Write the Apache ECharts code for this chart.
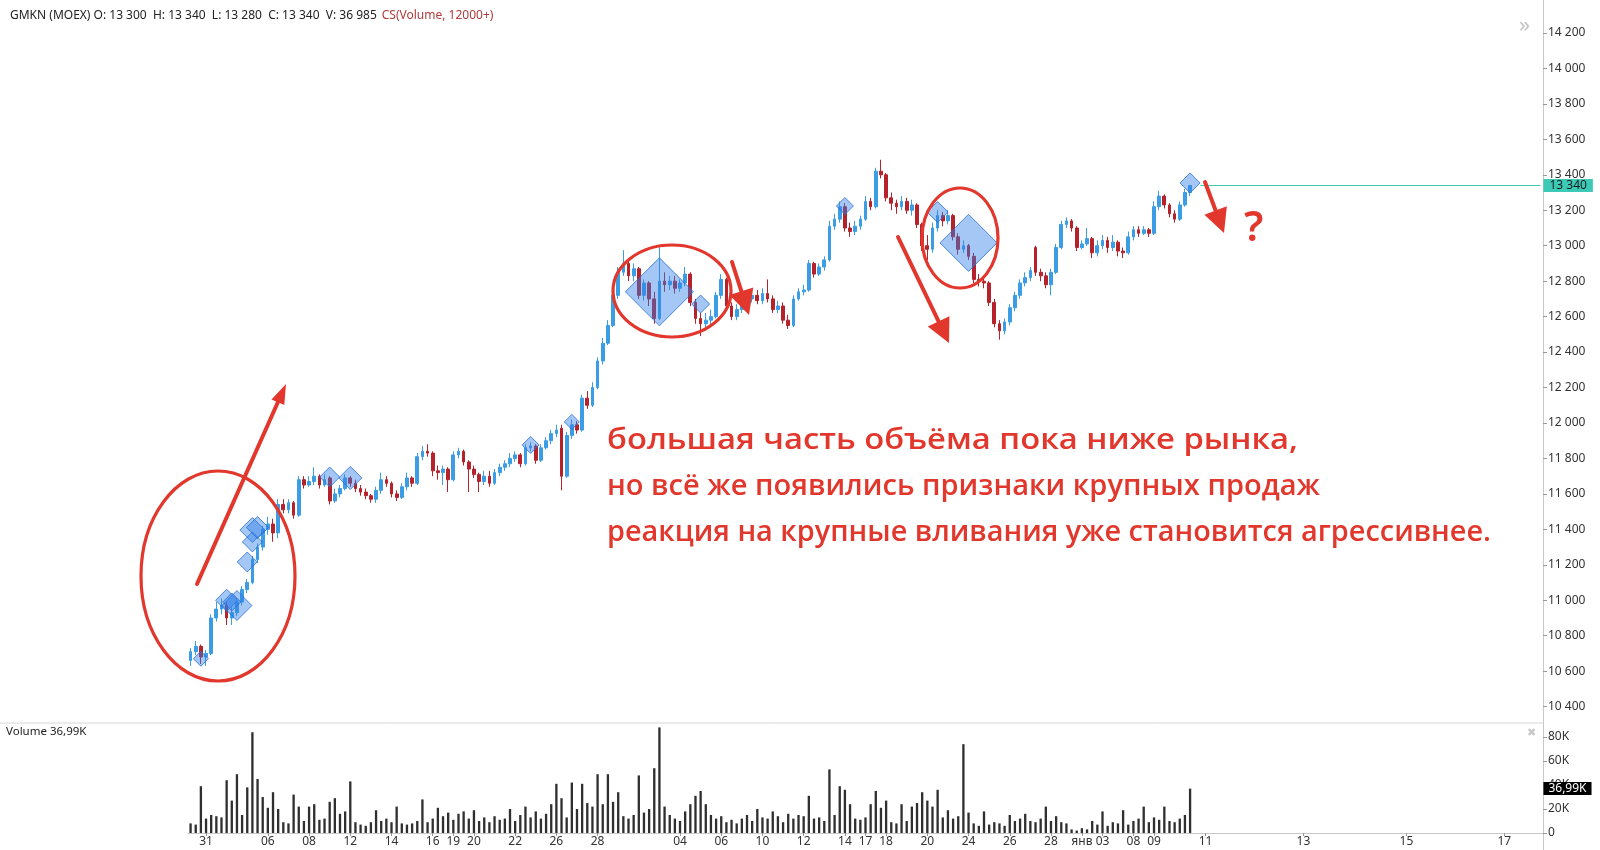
<!DOCTYPE html>
<html><head><meta charset="utf-8">
<script src="https://cdn.jsdelivr.net/npm/echarts@6/dist/echarts.min.js"></script>
<style>html,body{margin:0;padding:0;background:#fff;}#chart{width:1600px;height:850px;}</style>
</head><body><div id="chart"></div>
<script>
// ---- data ----
const opens = [10660,10710,10740,10680,10700,10900,10950,10970,10900,10930,
10990,11060,11100,11230,11300,11400,11430,11380,11540,11510,
11550,11480,11680,11650,11670,11700,11650,11690,11560,11600,
11630,11690,11660,11630,11610,11590,11570,11620,11680,11660,
11600,11580,11640,11690,11660,11810,11840,11830,11730,11720,
11740,11680,11820,11840,11780,11740,11710,11670,11700,11660,
11720,11750,11770,11800,11820,11770,11860,11870,11790,11860,
11900,11940,11970,11700,11930,11990,11960,12140,12100,12200,
12350,12450,12550,12720,12850,12900,12830,12870,12720,12790,
12700,12590,12800,12780,12800,12760,12790,12840,12680,12590,
12560,12580,12600,12720,12810,12660,12600,12640,12720,12700,
12720,12690,12730,12700,12640,12660,12580,12550,12700,12740,
12750,12900,12840,12880,12920,13110,13150,13220,13100,13080,
13110,13150,13250,13220,13420,13400,13270,13240,13220,13250,
13200,13230,13120,13000,12980,13100,13170,13140,13170,13050,
12980,13000,12940,12810,12800,12790,12680,12560,12520,12570,
12650,12720,12790,12820,12990,12850,12830,12780,12850,12990,
13120,13140,13100,12990,13010,13040,12960,13000,13030,12990,
13020,12970,12960,13050,13090,13070,13090,13070,13220,13280,
13230,13180,13150,13230,13300];
const highs = [10730,10770,10750,10720,10920,10990,11010,10990,10960,11010,
11080,11120,11250,11320,11420,11470,11460,11570,11570,11570,
11560,11700,11700,11700,11750,11710,11710,11700,11630,11650,
11710,11700,11680,11650,11630,11600,11640,11720,11700,11670,
11620,11660,11720,11700,11830,11870,11880,11840,11760,11760,
11750,11840,11860,11850,11790,11760,11720,11730,11730,11740,
11770,11790,11830,11840,11830,11880,11890,11880,11880,11920,
11960,11990,11990,11950,12020,12010,12160,12180,12230,12370,
12480,12580,12750,12880,12975,12920,12900,12880,12810,12800,
12740,12990,12850,12830,12830,12810,12880,12850,12700,12620,
12620,12640,12740,12840,12820,12680,12670,12750,12750,12760,
12750,12760,12810,12720,12690,12680,12610,12720,12760,12780,
12920,12910,12900,12940,13140,13180,13250,13240,13130,13140,
13170,13280,13270,13440,13485,13410,13300,13260,13280,13270,
13260,13240,13130,13060,13130,13200,13190,13200,13180,13070,
13030,13010,12960,12840,12830,12800,12700,12580,12590,12670,
12740,12810,12850,12880,13000,12870,12850,12870,13010,13140,
13160,13150,13110,13030,13100,13050,13030,13060,13050,13060,
13030,12990,13080,13110,13110,13110,13100,13250,13310,13290,
13240,13200,13250,13320,13340];
const lows = [10630,10690,10640,10630,10690,10880,10920,10860,10860,10910,
10970,11040,11090,11210,11280,11370,11330,11350,11490,11490,
11460,11470,11630,11640,11650,11630,11640,11540,11550,11580,
11620,11640,11610,11590,11570,11550,11550,11600,11640,11580,
11560,11570,11620,11640,11650,11790,11810,11700,11680,11650,
11610,11670,11800,11760,11610,11690,11610,11650,11640,11650,
11700,11730,11750,11780,11750,11760,11840,11770,11780,11850,
11880,11920,11620,11690,11910,11940,11950,12080,12090,12190,
12330,12440,12540,12700,12830,12800,12800,12700,12690,12660,
12560,12580,12740,12750,12730,12740,12770,12660,12560,12490,
12520,12550,12590,12700,12640,12580,12580,12620,12680,12680,
12670,12670,12680,12620,12620,12560,12530,12540,12690,12720,
12740,12820,12830,12860,12910,13090,13130,13080,13050,13060,
13090,13140,13200,13210,13380,13250,13200,13180,13200,13180,
13170,13100,12970,12920,12960,13080,13110,13120,13030,12950,
12960,12920,12790,12770,12760,12660,12540,12470,12500,12550,
12630,12700,12770,12800,12830,12800,12760,12720,12840,12980,
13100,13080,12970,12980,13000,12930,12940,12980,12960,12970,
12940,12930,12950,13030,13050,13060,13050,13060,13200,13210,
13160,13130,13140,13220,13280];
const closes = [10710,10740,10680,10700,10900,10950,10970,10900,10930,10990,
11060,11100,11230,11300,11400,11430,11380,11540,11510,11550,
11480,11680,11650,11670,11700,11650,11680,11560,11600,11630,
11690,11660,11630,11610,11590,11570,11620,11680,11660,11600,
11580,11640,11690,11660,11810,11840,11830,11730,11720,11740,
11680,11820,11840,11780,11740,11710,11670,11700,11660,11720,
11750,11770,11800,11820,11770,11860,11870,11790,11860,11900,
11940,11960,11700,11930,11990,11960,12140,12100,12200,12350,
12450,12550,12720,12850,12900,12830,12870,12720,12790,12700,
12590,12800,12780,12800,12760,12790,12840,12680,12590,12560,
12580,12600,12720,12810,12660,12600,12640,12720,12700,12720,
12690,12730,12700,12640,12660,12580,12550,12700,12740,12750,
12900,12840,12880,12920,13110,13150,13220,13100,13080,13110,
13150,13250,13220,13420,13400,13270,13240,13220,13250,13200,
13230,13120,13000,12980,13100,13170,13140,13170,13050,12980,
13000,12940,12810,12800,12790,12680,12560,12520,12570,12650,
12720,12790,12820,12860,12850,12830,12780,12850,12990,13120,
13140,13100,12990,13010,13040,12960,13000,13030,12990,13020,
12970,12960,13050,13090,13070,13090,13070,13220,13280,13230,
13180,13150,13230,13300,13340];
const volumesK = [8,7,39,12,15,14,13,44,27,49,
15,38,84,45,30,21,34,20,9,8,
32,22,10,22,24,11,12,26,29,16,
18,43,9,7,6,9,19,10,12,9,
22,8,7,8,10,28,9,12,21,14,
17,11,16,18,12,19,10,13,9,14,
11,12,20,10,15,22,13,18,12,16,
24,41,29,13,42,20,41,25,22,49,
24,49,26,34,14,12,15,48,17,20,
54,88,22,15,12,10,18,24,31,35,
24,15,12,14,9,11,8,12,15,10,
20,13,12,18,14,9,16,12,15,14,
31,12,13,10,53,15,39,36,24,12,
11,13,24,35,21,27,9,8,24,10,
22,25,34,27,22,36,13,19,12,14,
74,17,8,6,18,7,9,8,6,15,
10,12,16,10,9,12,22,10,14,9,
8,3,2,4,3,10,7,18,6,9,
8,19,7,10,12,22,9,13,11,22,
10,9,12,15,36.985];
// time-axis slots (bars + empty future slots) and the date labels on them
const slotCount = 263;
const tickSlots  = [3,15,23,31,39,47,51,55,63,71,79,95,103,111,119,127,131,135,143,151,159,167,173,177,183,187,197,216,236,255];
const tickLabels = ['31','06','08','12','14','16','19','20','22','26','28','04','06','10','12','14','17','18','20','24','26','28','янв','03','08','09','11','13','15','17'];
// large-volume cluster marks (CS Volume 12000+)
const clusterSlots  = [2,7,9,8,11,12,12,13,27,31,66,74,91,99,127,145,151,194];
const clusterPrices = [10670,11000,10970,10990,11216,11396,11329,11410,11695,11690,11876,12006,12740,12671,13224,13190,13016,13354];
const clusterSizes  = [15,22,30,18,20,25,20,22,20,23,17,15,68,18,17,21,57,20];
const priceTicks = [10400, 14200, 200];
const volumeTicks = [0, 80, 20];
const noteLines = ['большая часть объёма пока ниже рынка,',
  'но всё же появились признаки крупных продаж',
  'реакция на крупные вливания уже становится агрессивнее.'];

// ---- chart ----
const RED = '#e2372c', UP = '#3b9de3', DOWN = '#b5222b', TEAL = '#3ccab6';
const FONT = '"Noto Sans", sans-serif';
const NOTE_FONT = '600 28.5px "Open Sans", sans-serif';
const noteWidths = [691, 713, 884];   // drawn widths of the handwritten lines, px
const fmtNum = v => String(v).replace(/\B(?=(\d{3})+(?!\d))/g, ' ');
const n = closes.length;
const candleData = closes.map((c, i) => [opens[i], c, lows[i], highs[i]]);
const volData = volumesK.map((v, i) => [i, v]);
const slots = Array.from({length: slotCount}, (_, i) => String(i));
const labelAt = {}; tickSlots.forEach((s, k) => labelAt[s] = tickLabels[k]);
const lastV = volumesK[n - 1];
const lastVText = (Math.round(Math.round(lastV * 1000) / 10) / 100).toFixed(2).replace('.', ',') + 'K';
const header = `GMKN (MOEX) O: ${fmtNum(opens[n-1])}  H: ${fmtNum(highs[n-1])}  L: ${fmtNum(lows[n-1])}  C: ${fmtNum(closes[n-1])}  V: ${fmtNum(Math.round(lastV*1000))}`;
const clusterData = clusterSlots.map((s, i) => [s, clusterPrices[i], clusterSizes[i]]);

const mctx = document.createElement('canvas').getContext('2d');
mctx.font = NOTE_FONT;

function arrow(x1, y1, x2, y2, hl, hw) {
  const dx = x2 - x1, dy = y2 - y1, L = Math.hypot(dx, dy), ux = dx / L, uy = dy / L;
  const bx = x2 - ux * hl, by = y2 - uy * hl;
  return [
    {type: 'line', shape: {x1, y1, x2: bx + ux * 3, y2: by + uy * 3}, style: {stroke: RED, lineWidth: 4, lineCap: 'round'}, z: 100},
    {type: 'polygon', shape: {points: [[x2, y2], [bx - uy * hw / 2, by + ux * hw / 2], [bx + uy * hw / 2, by - ux * hw / 2]]}, style: {fill: RED}, z: 100}
  ];
}
function ell(cx, cy, rx, ry) {
  return {type: 'ellipse', shape: {cx, cy, rx, ry}, style: {fill: null, stroke: RED, lineWidth: 3.2}, z: 100};
}

function buildGraphics() {
  return [
    {type: 'line', shape: {x1: 0, y1: 723, x2: 1543, y2: 723}, style: {stroke: '#d6d6d6', lineWidth: 1}},
    {type: 'line', shape: {x1: 1543.5, y1: 0, x2: 1543.5, y2: 850}, style: {stroke: '#c9c9c9', lineWidth: 1}},
    {type: 'text', x: 1519, y: 26, style: {text: '»', fill: '#c4c4c4', fontSize: 22, fontFamily: FONT, verticalAlign: 'middle'}},
    {type: 'text', x: 1527, y: 733, style: {text: '✖', fill: '#c8c8c8', fontSize: 11, fontFamily: 'DejaVu Sans', verticalAlign: 'middle'}},
    {type: 'text', x: 6, y: 732, style: {text: 'Volume ' + lastVText, fill: '#222', fontSize: 11.5, fontFamily: FONT, verticalAlign: 'middle'}},
    ell(218, 576, 77, 105), ell(672, 291, 59, 46), ell(960, 238, 38, 50),
    ...arrow(197, 584, 286, 384, 20, 14),
    ...arrow(732, 262, 749, 315, 25, 25),
    ...arrow(898, 237, 949, 343, 24, 24),
    ...arrow(1205, 182, 1224, 233, 24, 24),
    {type: 'text', x: 1244, y: 229, style: {text: '?', fill: RED, fontSize: 42, fontWeight: 600, fontFamily: FONT, verticalAlign: 'middle'}, z: 100},
    ...noteLines.map((t, k) => {
      const w = mctx.measureText(t).width || noteWidths[k];
      return {type: 'text', x: 607, y: 441 + k * 46, z: 100, scaleX: noteWidths[k] / w, originX: 0,
        style: {text: t, fill: RED, fontSize: 28.5, fontFamily: '"Open Sans", sans-serif', fontWeight: 600, verticalAlign: 'middle'}};
    })
  ];
}

const chart = echarts.init(document.getElementById('chart'), null, {renderer: 'canvas'});
function render() {
  mctx.font = NOTE_FONT;
  chart.setOption({
    animation: false,
    backgroundColor: '#fff',
    title: {
      left: 5, top: 2,
      text: '{a|' + header + '} {b|CS(Volume, 12000+)}',
      textStyle: {fontWeight: 'normal', rich: {
        a: {fontSize: 12, color: '#222', fontWeight: 'normal', fontFamily: FONT},
        b: {fontSize: 12, color: '#b03a3a', fontWeight: 'normal', fontFamily: FONT}
      }}
    },
    grid: [
      {left: 188, right: 57, top: 33, bottom: 143.4},
      {left: 188, right: 57, top: 737, bottom: 17}
    ],
    xAxis: [
      {type: 'category', gridIndex: 0, data: slots, boundaryGap: true, show: false},
      {type: 'category', gridIndex: 1, data: slots, boundaryGap: true,
        axisLine: {show: true, lineStyle: {color: '#c8c8c8'}},
        axisTick: {show: true, length: 3, alignWithLabel: true, interval: (i) => labelAt[i] !== undefined, lineStyle: {color: '#999'}},
        axisLabel: {interval: (i) => labelAt[i] !== undefined, formatter: (v, i) => labelAt[i] || '', color: '#333', fontSize: 12, fontFamily: FONT, margin: 3},
        splitLine: {show: false}}
    ],
    yAxis: [
      {type: 'value', gridIndex: 0, position: 'right', min: priceTicks[0], max: priceTicks[1], interval: priceTicks[2],
        axisLine: {show: false}, axisTick: {show: true, length: 4, lineStyle: {color: '#999'}},
        axisLabel: {formatter: v => fmtNum(v), color: '#333', fontSize: 12, fontFamily: FONT, margin: 5},
        splitLine: {show: false}},
      {type: 'value', gridIndex: 1, position: 'right', min: volumeTicks[0], max: volumeTicks[1], interval: volumeTicks[2],
        axisLine: {show: false}, axisTick: {show: true, length: 4, lineStyle: {color: '#999'}},
        axisLabel: {formatter: v => v === 0 ? '0' : v + 'K', color: '#333', fontSize: 12, fontFamily: FONT, margin: 5},
        splitLine: {show: false}}
    ],
    series: [
      {type: 'candlestick', xAxisIndex: 0, yAxisIndex: 0, data: candleData, barWidth: '62%',
        itemStyle: {color: UP, color0: DOWN, borderColor: UP, borderColor0: DOWN, borderWidth: 1},
        markLine: {silent: true, symbol: ['none', 'none'], animation: false,
          lineStyle: {color: TEAL, width: 1, type: 'solid'},
          label: {show: true, position: 'end', distance: 3, formatter: () => fmtNum(closes[n-1]),
            backgroundColor: TEAL, color: '#1b1b1b', fontSize: 12, fontFamily: FONT, padding: [1, 6, 0, 6]},
          data: [[{coord: [n + 1, closes[n-1]]}, {coord: [slotCount - 1, closes[n-1]]}]]}},
      {type: 'scatter', xAxisIndex: 0, yAxisIndex: 0, data: clusterData, symbol: 'diamond',
        symbolSize: v => v[2], z: 5,
        itemStyle: {color: 'rgba(48,128,232,0.55)', borderColor: '#2b6fd2', borderWidth: 1}},
      {type: 'bar', xAxisIndex: 1, yAxisIndex: 1, data: volData, barWidth: '45%', clip: false,
        itemStyle: {color: '#2f2f2f'},
        markLine: {silent: true, symbol: ['none', 'none'], animation: false,
          lineStyle: {color: 'rgba(0,0,0,0)', width: 0},
          label: {show: true, position: 'end', distance: 3, formatter: () => lastVText,
            backgroundColor: '#000', color: '#fff', fontSize: 12, fontFamily: FONT, padding: [1, 5, 0, 5]},
          data: [[{coord: [n - 1, lastV]}, {coord: [slotCount - 1, lastV]}]]}}
    ],
    graphic: buildGraphics()
  }, true);
}
render();
if (document.fonts && document.fonts.ready) document.fonts.ready.then(render);
</script>
</body></html>
